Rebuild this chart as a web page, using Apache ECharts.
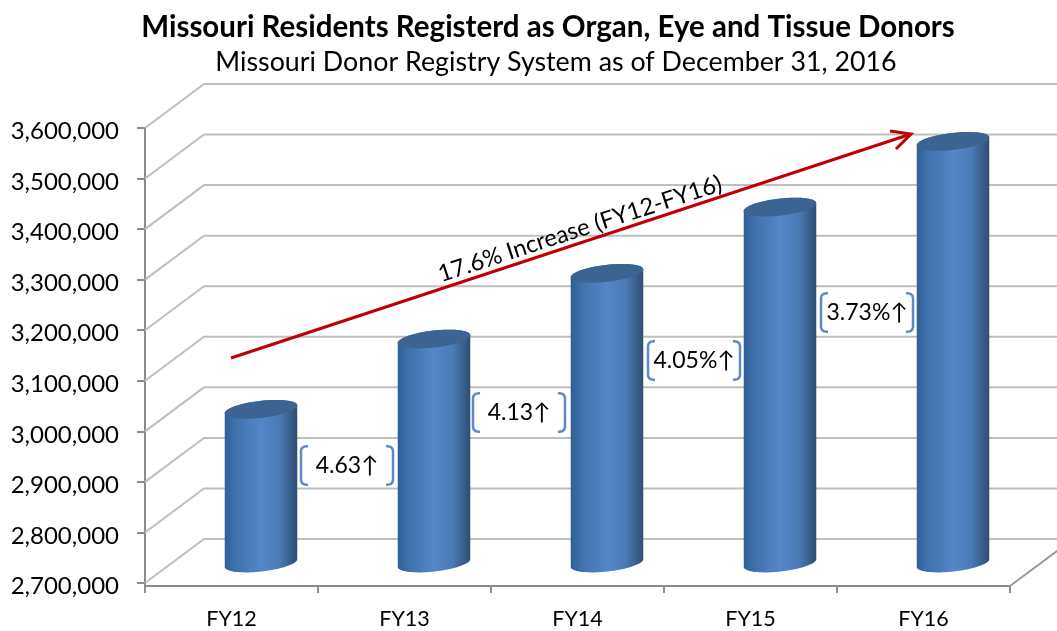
<!doctype html>
<html>
<head>
<meta charset="UTF-8">
<title>Missouri Donor Registry</title>
<style>
html,body{margin:0;padding:0;background:#fff;}
#main{width:1057px;height:631px;}
</style>
</head>
<body>
<div id="main"></div>
<script src="https://cdn.jsdelivr.net/npm/echarts@6/dist/echarts.min.js"></script>
<script>
var categories = ['FY12', 'FY13', 'FY14', 'FY15', 'FY16'];
var donors = [3000000, 3139000, 3269000, 3400000, 3530000];
var yTicks = [2700000, 2800000, 2900000, 3000000, 3100000, 3200000, 3300000, 3400000, 3500000, 3600000];
var changeLabels = ['4.63↑', '4.13↑', '4.05%↑', '3.73%↑'];

var FONT = 'Lato';
// 3d look: how far the back wall sits from the front axes
var DEPTH_X = 59, DEPTH_Y = -44;
// the category axis sits a little below the lowest value tick
var X_AXIS_DROP = 3;

var myChart = echarts.init(document.getElementById('main'));

function ellipsePoints(cx, cy, from, to) {
    var rx = 36.5, ry = 8.5, a = -6.5 * Math.PI / 180, pts = [];
    for (var i = 0; i <= 40; i++) {
        var t = from + (to - from) * i / 40;
        var ex = rx * Math.cos(t), ey = ry * Math.sin(t);
        pts.push([cx + ex * Math.cos(a) - ey * Math.sin(a), cy + ex * Math.sin(a) + ey * Math.cos(a)]);
    }
    return pts;
}

function renderWall(params, api) {
    var p = api.coord([0, api.value(0)]);
    var x0 = params.coordSys.x, w = params.coordSys.width;
    var children = [{
        type: 'polyline',
        shape: {points: [[x0, p[1]], [x0 + DEPTH_X, p[1] + DEPTH_Y], [x0 + w + DEPTH_X, p[1] + DEPTH_Y]]},
        style: {stroke: '#bfbfbf', lineWidth: 2, fill: null}
    }];
    if (params.dataIndex === 0) {
        // right edge of the floor, and the value axis running down to the category axis
        children.push({
            type: 'line',
            shape: {x1: x0 + w, y1: p[1] + X_AXIS_DROP, x2: x0 + w + DEPTH_X, y2: p[1] + X_AXIS_DROP + DEPTH_Y},
            style: {stroke: '#999', lineWidth: 2}
        }, {
            type: 'line',
            shape: {x1: x0, y1: p[1], x2: x0, y2: p[1] + X_AXIS_DROP},
            style: {stroke: '#8c8c8c', lineWidth: 2}
        });
    }
    return {type: 'group', children: children};
}

function renderCylinder(params, api) {
    var top = api.coord([api.value(0), api.value(1)]);
    var base = api.coord([api.value(0), yTicks[0]]);
    var cx = top[0] + DEPTH_X / 2;
    var topY = top[1] + DEPTH_Y / 2, baseY = base[1] + DEPTH_Y / 2 + 2;
    var body = ellipsePoints(cx, baseY, 0, Math.PI).concat(ellipsePoints(cx, topY, Math.PI, 2 * Math.PI));
    return {
        type: 'group',
        children: [{
            type: 'polygon',
            shape: {points: body},
            style: {
                fill: new echarts.graphic.LinearGradient(0, 0, 1, 0, [
                    {offset: 0, color: '#2f5f96'},
                    {offset: 0.15, color: '#3f71ab'},
                    {offset: 0.5, color: '#5487c8'},
                    {offset: 0.75, color: '#4a7cb6'},
                    {offset: 0.9, color: '#3a618f'},
                    {offset: 1, color: '#2e4d72'}
                ])
            }
        }, {
            type: 'polygon',
            shape: {points: ellipsePoints(cx, topY, 0, 2 * Math.PI)},
            style: {fill: '#3c6492'}
        }]
    };
}

// one bracketed callout between two columns
function callout(text, x, y) {
    var w = 92, h = 39;
    var left = [[7, 0], [2.5, 0.8], [0.7, 2.5], [0, 5], [0, h - 5], [0.7, h - 2.5], [2.5, h - 0.8], [7, h]];
    var right = left.map(function (p) { return [w - p[0], p[1]]; });
    return {
        type: 'group', x: x, y: y,
        children: [{
            type: 'polyline',
            shape: {points: left},
            style: {stroke: '#5b8ac4', lineWidth: 2.5, fill: null}
        }, {
            type: 'polyline',
            shape: {points: right},
            style: {stroke: '#5b8ac4', lineWidth: 2.5, fill: null}
        }, {
            type: 'text',
            style: {x: w / 2, y: h / 2, text: text, align: 'center', verticalAlign: 'middle', font: '23px ' + FONT, fill: '#000'}
        }]
    };
}

option = {
    animation: false,
    backgroundColor: '#fff',
    title: [{
        text: 'Missouri Residents Registerd as Organ, Eye and Tissue Donors',
        left: 543, top: 7, textAlign: 'center',
        textStyle: {fontFamily: FONT, fontSize: 29.5, fontWeight: 'bold', color: '#000'}
    }, {
        text: 'Missouri Donor Registry System as of December 31, 2016',
        left: 551, top: 44, textAlign: 'center',
        textStyle: {fontFamily: FONT, fontSize: 26.8, fontWeight: 'normal', color: '#000'}
    }],
    grid: {left: 145, right: 47, top: 128, bottom: 48, containLabel: false},
    xAxis: {
        type: 'category',
        data: categories,
        offset: X_AXIS_DROP,
        axisLine: {lineStyle: {color: '#8c8c8c', width: 2}},
        axisTick: {show: true, length: 7, lineStyle: {color: '#8c8c8c', width: 2}},
        axisLabel: {fontFamily: FONT, fontSize: 21.5, color: '#000', margin: 22}
    },
    yAxis: {
        type: 'value',
        min: yTicks[0],
        max: yTicks[yTicks.length - 1],
        interval: 100000,
        axisLine: {show: true, lineStyle: {color: '#8c8c8c', width: 2}},
        axisTick: {show: true, length: 8, lineStyle: {color: '#8c8c8c', width: 2}},
        splitLine: {show: false},
        axisLabel: {
            fontFamily: FONT, fontSize: 24, color: '#000', margin: 26,
            verticalAlign: 'top', lineHeight: 7,
            formatter: function (v) { return v.toLocaleString('en-US'); }
        }
    },
    series: [{
        type: 'custom',
        name: 'walls',
        renderItem: renderWall,
        encode: {y: 0},
        data: yTicks.map(function (v) { return [v]; }),
        silent: true,
        z: 1
    }, {
        type: 'custom',
        name: 'Registered donors',
        renderItem: renderCylinder,
        encode: {x: 0, y: 1},
        data: donors.map(function (v, i) { return [i, v]; }),
        z: 3
    }],
    graphic: [
        callout(changeLabels[0], 301, 446),
        callout(changeLabels[1], 473, 393),
        callout(changeLabels[2], 648, 341),
        callout(changeLabels[3], 821, 293),
        {
            type: 'polyline', z: 10,
            shape: {points: [[231, 358], [911, 134]]},
            style: {stroke: '#c00000', lineWidth: 3, fill: null}
        },
        {
            type: 'polyline', z: 10,
            shape: {points: [[890, 131], [911, 134], [896, 149]]},
            style: {stroke: '#c00000', lineWidth: 3, fill: null}
        },
        {
            type: 'text', z: 11,
            x: 580, y: 229, rotation: 18 * Math.PI / 180,
            style: {text: '17.6% Increase (FY12-FY16)', align: 'center', verticalAlign: 'middle', font: '23.7px ' + FONT, fill: '#000'}
        }
    ]
};

myChart.setOption(option);
</script>
</body>
</html>
